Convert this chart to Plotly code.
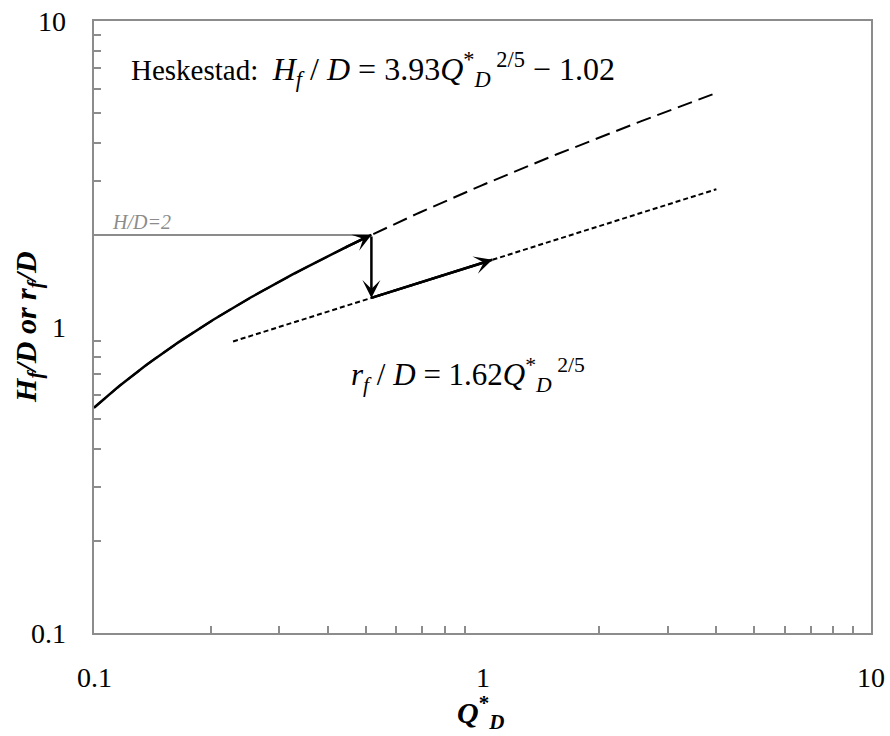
import numpy as np
import plotly.graph_objects as go

# Correlation coefficients (H_f/D = A*Q^n - B, r_f/D = C*Q^n)
HESK_A = 3.93
HESK_B = 1.02
RF_C = 1.62
EXPONENT = 0.4

# Extents of the plotted curves (Q*_D)
Q_MIN = 0.1
Q_MAX = 4.0
RF_Q_MIN = 0.228
RF_ARROW_Q = 1.06
HD_LEVEL = 2.0

# Axis ticks
MAJOR_TICKS = [0.1, 1, 10]
MAJOR_LABELS = ["0.1", "1", "10"]
MINOR_TICKS = [m * d for d in (0.1, 1) for m in range(2, 10)]


def flame_height(q):
    return HESK_A * np.power(q, EXPONENT) - HESK_B


def flame_radius(q):
    return RF_C * np.power(q, EXPONENT)


# Q where H/D reaches the level of the horizontal guide
q_cross = ((HD_LEVEL + HESK_B) / HESK_A) ** (1 / EXPONENT)

q_full = np.logspace(np.log10(Q_MIN), np.log10(Q_MAX), 200)
q_solid = np.logspace(np.log10(Q_MIN), np.log10(q_cross), 120)
q_rf = np.logspace(np.log10(RF_Q_MIN), np.log10(Q_MAX), 50)

SERIF = "Liberation Serif, Times New Roman, serif"
BLACK = "#000000"
GREY = "#8c8c8c"

fig = go.Figure()

# Heskestad correlation, dashed
fig.add_trace(go.Scatter(x=q_full, y=flame_height(q_full), mode="lines",
                         line=dict(color=BLACK, width=2, dash="15px,7px"),
                         hoverinfo="skip"))
# Flame radius correlation, short dashes
fig.add_trace(go.Scatter(x=q_rf, y=flame_radius(q_rf), mode="lines",
                         line=dict(color=BLACK, width=2, dash="5px,3px"),
                         hoverinfo="skip"))
# H/D = 2 guide
fig.add_trace(go.Scatter(x=[Q_MIN, q_cross], y=[HD_LEVEL, HD_LEVEL], mode="lines",
                         line=dict(color=GREY, width=2), hoverinfo="skip"))
# Solid path along the height curve
fig.add_trace(go.Scatter(x=q_solid, y=flame_height(q_solid), mode="lines",
                         line=dict(color=BLACK, width=2.5), hoverinfo="skip"))
# Solid path along the radius line
fig.add_trace(go.Scatter(x=[q_cross, RF_ARROW_Q],
                         y=[flame_radius(q_cross), flame_radius(RF_ARROW_Q)],
                         mode="lines", line=dict(color=BLACK, width=2.5),
                         hoverinfo="skip"))

L = np.log10
arrow_style = dict(showarrow=True, arrowhead=3, arrowsize=1.2, arrowwidth=2.5,
                   arrowcolor=BLACK, text="", xref="x", yref="y",
                   axref="x", ayref="y", standoff=0, startstandoff=0)
q_back = q_cross * 0.85
annotations = [
    dict(x=L(q_cross), y=L(HD_LEVEL), ax=L(q_back), ay=L(flame_height(q_back)), **arrow_style),
    dict(x=L(q_cross), y=L(flame_radius(q_cross)), ax=L(q_cross), ay=L(HD_LEVEL), **arrow_style),
    dict(x=L(RF_ARROW_Q), y=L(flame_radius(RF_ARROW_Q)), ax=L(q_cross),
         ay=L(flame_radius(q_cross)), **arrow_style),
]

# Decade labels on both axes
tick_font = dict(family=SERIF, size=28, color=BLACK)
for val, lab in zip(MAJOR_TICKS, MAJOR_LABELS):
    annotations.append(dict(xref="x", yref="paper", x=L(val), y=-0.072,
                            xanchor="center", yanchor="middle", showarrow=False,
                            font=tick_font, text=lab))
    annotations.append(dict(xref="paper", yref="y", x=-0.034, y=L(val),
                            xanchor="right", yanchor="middle", showarrow=False,
                            font=tick_font, text=lab))

EQ = '<span style="font-size:32px">{}</span>'

# Equation labels
annotations.append(dict(
    xref="paper", yref="paper", x=0.045, y=0.921, xanchor="left", yanchor="middle",
    showarrow=False, font=dict(family=SERIF, size=29, color=BLACK),
    text="Heskestad:  " + EQ.format(
        "<i>H<sub>f</sub></i> / <i>D</i> = 3.93<i>Q</i><sup>*</sup>"
        "<sub><i>D</i></sub><sup> 2/5</sup> − 1.02")))
annotations.append(dict(
    xref="paper", yref="paper", x=0.328, y=0.422, xanchor="left", yanchor="middle",
    showarrow=False, font=dict(family=SERIF, size=31, color=BLACK),
    text="<i>r<sub>f</sub></i> / <i>D</i> = 1.62<i>Q</i><sup>*</sup><sub><i>D</i></sub><sup> 2/5</sup>"))
annotations.append(dict(
    xref="paper", yref="y", x=0.021, y=L(HD_LEVEL), xanchor="left", yanchor="bottom",
    yshift=0, showarrow=False, font=dict(family=SERIF, size=20, color=GREY),
    text="<i>H/D=2</i>"))

# Axis titles
annotations.append(dict(
    xref="paper", yref="paper", x=0.497, y=-0.13, xanchor="center", yanchor="middle",
    showarrow=False, font=dict(family=SERIF, size=30, color=BLACK),
    text="<b><i>Q</i></b><sup><b>*</b></sup><sub><b><i>D</i></b></sub>"))
annotations.append(dict(
    xref="paper", yref="paper", x=-0.085, y=0.5, xanchor="center", yanchor="middle",
    textangle=-90, showarrow=False, font=dict(family=SERIF, size=30, color=BLACK),
    text="<b><i>H<sub>f</sub>/D or r<sub>f</sub>/D</i></b>"))

axis_common = dict(
    type="log", showline=True, linecolor=GREY, linewidth=2, mirror=True,
    showgrid=False, zeroline=False, ticks="", showticklabels=False,
    tickmode="array", tickvals=MAJOR_TICKS,
    minor=dict(ticks="inside", ticklen=7, tickwidth=1.5, tickcolor=GREY,
               tickmode="array", tickvals=MINOR_TICKS, showgrid=False),
)

fig.update_layout(
    width=890, height=736,
    margin=dict(l=94, r=19, t=21, b=103),
    paper_bgcolor="white", plot_bgcolor="white",
    showlegend=False,
    xaxis=dict(range=[-1, 1], **axis_common),
    yaxis=dict(range=[-1, 1], **axis_common),
    annotations=annotations,
)

fig.write_html("out.html")
